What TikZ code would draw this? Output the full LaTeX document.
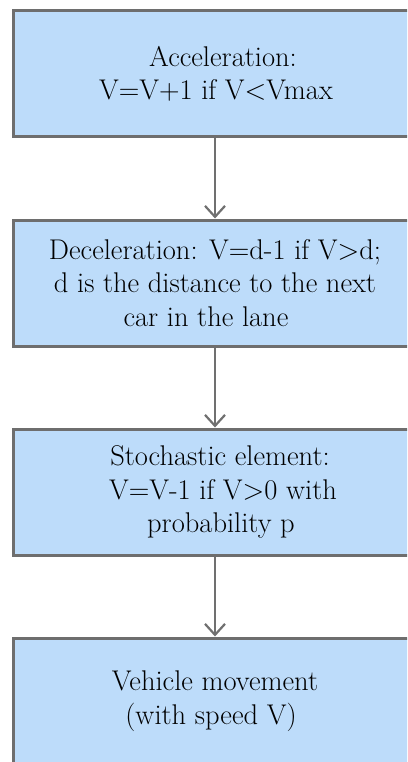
\documentclass[tikz,border=0pt]{standalone}
\usetikzlibrary{positioning, arrows.meta}

\definecolor{stepfill}{HTML}{BDDCFA}
\definecolor{stepline}{HTML}{6E6E6E}
\definecolor{flowline}{HTML}{707070}

\begin{document}
\begin{tikzpicture}[
    x=1pt, y=1pt,
    font=\rmfamily\fontsize{28.5}{33.5}\selectfont,
    node distance=80pt,
    stepbox/.style={
        draw=stepline,
        fill=stepfill,
        line width=3pt,
        minimum width=404pt,
        minimum height=126pt,
        align=center
    },
    flowarrow/.style={
        draw=flowline,
        line width=2.2pt,
        -{Straight Barb[length=11pt, width=20pt, line width=2.2pt]}
    }
]
% ============================================================
% FRAME -- picture cut at the right and bottom edge
% ============================================================
\useasboundingbox (0,0) rectangle (407,-762);
\clip (0,0) rectangle (407,-762);
% ============================================================
% UPDATE STEPS -- top to bottom
% ============================================================
\node[stepbox] (accel) at (215,-74) {
    \hspace*{16pt}Acceleration:\\
    \hspace*{2pt}V=V+1 if V<Vmax
};
\node[stepbox, below=of accel] (decel) {
    Deceleration: V=d-1 if V>d;\\
    d is the distance to the next\\
    car in the lane\hspace*{18pt}
};
\node[stepbox, below=of decel] (random) {
    \hspace*{10pt}Stochastic element:\\
    \hspace*{16pt}V=V-1 if V>0 with\\
    \hspace*{12pt}probability p
};
\node[stepbox, below=of random] (move) {
    Vehicle movement\\
    (with speed V)\hspace*{8pt}
};
% ============================================================
% FLOW ARROWS
% ============================================================
\draw[flowarrow] (accel)  -- (decel);
\draw[flowarrow] (decel)  -- (random);
\draw[flowarrow] (random) -- (move);
\end{tikzpicture}
\end{document}
